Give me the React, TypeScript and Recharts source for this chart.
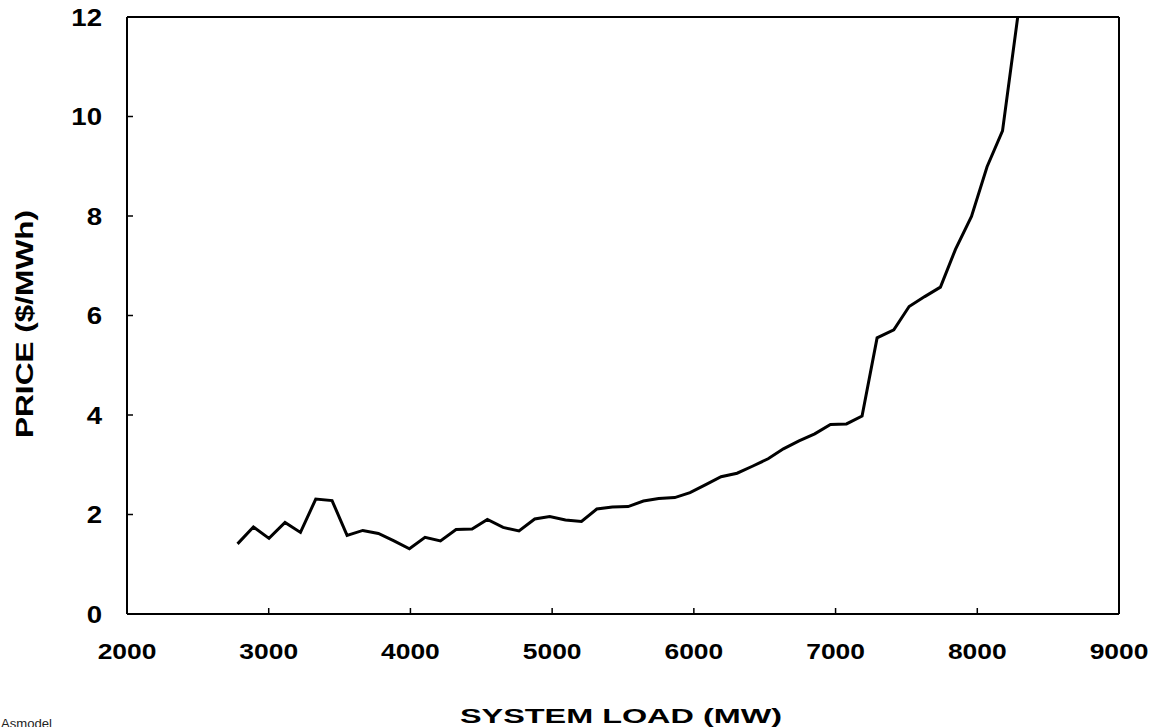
import { LineChart, Line, XAxis, YAxis, ReferenceLine, Label } from "recharts";

// System load (MW) vs price ($/MWh)
const loads = [
  2780, 2892, 3002, 3115, 3224, 3332, 3447, 3553, 3664, 3774, 3884, 3993, 4103, 4212, 4322, 4435, 4543,
  4654, 4766, 4877, 4983, 5094, 5207, 5315, 5425, 5536, 5644, 5752, 5865, 5973, 6084, 6192, 6305, 6413,
  6524, 6632, 6742, 6853, 6964, 7077, 7187, 7293, 7411, 7519, 7629, 7740, 7846, 7959, 8069, 8178, 8290,
];
const prices = [
  1.41, 1.75, 1.52, 1.84, 1.64, 2.31, 2.28, 1.58, 1.68, 1.62, 1.47, 1.31, 1.54, 1.47, 1.7, 1.71, 1.9,
  1.74, 1.67, 1.91, 1.96, 1.89, 1.86, 2.11, 2.15, 2.16, 2.27, 2.32, 2.34, 2.44, 2.6, 2.76, 2.83, 2.97,
  3.12, 3.32, 3.48, 3.62, 3.81, 3.82, 3.98, 5.55, 5.71, 6.18, 6.38, 6.57, 7.33, 7.99, 8.99, 9.71, 12.1,
];
const xTicks = [2000, 3000, 4000, 5000, 6000, 7000, 8000, 9000];
const yTicks = [0, 2, 4, 6, 8, 10, 12];

const data = loads.map((load, i) => ({ load, price: prices[i] }));

const FONT = '"Liberation Sans", Arial, sans-serif';
const STRETCH = 1.2; // the original's lettering is drawn wide

function XTick({ x, y, payload }: any) {
  return (
    <text
      transform={`translate(${x},${y}) scale(${STRETCH},1)`}
      textAnchor="middle"
      fontFamily={FONT}
      fontWeight="bold"
      fontSize={22}
      fill="#000"
    >
      {payload.value}
    </text>
  );
}

function YTick({ x, y, payload }: any) {
  return (
    <text
      transform={`translate(${x},${y + 8.5}) scale(${STRETCH},1)`}
      textAnchor="end"
      fontFamily={FONT}
      fontWeight="bold"
      fontSize={23}
      fill="#000"
    >
      {payload.value}
    </text>
  );
}

function XTitle({ viewBox }: any) {
  const cx = viewBox.x + viewBox.width / 2 - 2;
  return (
    <text
      x={cx}
      y={viewBox.y + 109}
      textAnchor="middle"
      fontFamily={FONT}
      fontWeight="bold"
      fontSize={21}
      textLength={322}
      lengthAdjust="spacingAndGlyphs"
      fill="#000"
    >
      SYSTEM LOAD (MW)
    </text>
  );
}

function YTitle() {
  const bx = 32.5;
  const cy = 324;
  return (
    <text
      x={bx}
      y={cy}
      transform={`rotate(-90, ${bx}, ${cy})`}
      textAnchor="middle"
      fontFamily={FONT}
      fontWeight="bold"
      fontSize={23}
      textLength={228}
      lengthAdjust="spacingAndGlyphs"
      fill="#000"
    >
      PRICE ($/MWh)
    </text>
  );
}

export default function App() {
  return (
    <div style={{ position: "absolute", left: 0, top: 0, width: 1152, height: 727, background: "#fff" }}>
      <LineChart width={1152} height={727} data={data} margin={{ top: 17, right: 33, left: 0, bottom: 63 }}>
        <XAxis
          dataKey="load"
          type="number"
          domain={[2000, 9000]}
          ticks={xTicks}
          height={50}
          tickSize={-6}
          tickMargin={51}
          tick={<XTick />}
          axisLine={{ stroke: "#000", strokeWidth: 2 }}
          tickLine={{ stroke: "#000", strokeWidth: 1.5 }}
        >
          <Label content={<XTitle />} />
        </XAxis>
        <YAxis
          type="number"
          domain={[0, 12]}
          ticks={yTicks}
          allowDataOverflow
          width={127}
          tickSize={-6}
          tickMargin={31}
          tick={<YTick />}
          axisLine={{ stroke: "#000", strokeWidth: 2 }}
          tickLine={{ stroke: "#000", strokeWidth: 1.5 }}
        >
          <Label content={<YTitle />} />
        </YAxis>
        <ReferenceLine y={12} stroke="#000" strokeWidth={2} />
        <ReferenceLine x={9000} stroke="#000" strokeWidth={2} />
        <Line
          type="linear"
          dataKey="price"
          stroke="#000"
          strokeWidth={3}
          dot={false}
          isAnimationActive={false}
        />
      </LineChart>
      <svg width={120} height={20} style={{ position: "absolute", left: 0, top: 707 }}>
        <text x={1} y={21} fontFamily={FONT} fontSize={12} fill="#222" textLength={51} lengthAdjust="spacingAndGlyphs">
          Asmodel
        </text>
      </svg>
    </div>
  );
}
